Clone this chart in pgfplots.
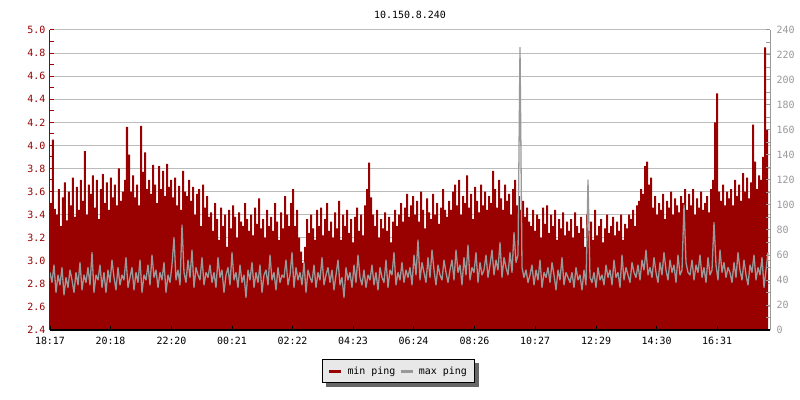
\documentclass[border=0pt]{standalone}
\usepackage{fontspec}
\usepackage{pgfplots}
\pgfplotsset{compat=1.18}
\usepackage{pgfplotstable}
\usetikzlibrary{backgrounds}
\newfontfamily\monofont{DejaVu Sans Mono}
\definecolor{pingred}{HTML}{990000}
\definecolor{pinggray}{HTML}{999999}
\definecolor{gridgray}{HTML}{BBBBBB}
\definecolor{legendbg}{HTML}{E8E8E8}

% min ping, one value every 4 minutes from 18:17
\pgfplotstableread[row sep=\\]{v\\
3.50\\4.05\\3.45\\3.40\\3.62\\3.30\\3.55\\3.68\\3.35\\3.60\\3.48\\3.72\\3.38\\3.64\\3.44\\3.70\\3.52\\3.95\\3.40\\3.66\\
3.58\\3.74\\3.46\\3.70\\3.36\\3.62\\3.75\\3.50\\3.68\\3.44\\3.72\\3.55\\3.66\\3.48\\3.80\\3.52\\3.60\\3.70\\4.16\\3.92\\
3.60\\3.74\\3.55\\3.66\\3.48\\4.17\\3.77\\3.94\\3.62\\3.70\\3.58\\3.83\\3.66\\3.50\\3.82\\3.62\\3.78\\3.56\\3.84\\3.64\\
3.70\\3.55\\3.72\\3.48\\3.65\\3.44\\3.78\\3.60\\3.56\\3.70\\3.52\\3.64\\3.40\\3.58\\3.62\\3.30\\3.66\\3.46\\3.56\\3.38\\
3.42\\3.26\\3.50\\3.36\\3.18\\3.46\\3.30\\3.40\\3.12\\3.44\\3.28\\3.48\\3.38\\3.20\\3.42\\3.34\\3.30\\3.50\\3.36\\3.26\\
3.40\\3.22\\3.46\\3.32\\3.54\\3.28\\3.36\\3.20\\3.44\\3.30\\3.38\\3.26\\3.50\\3.34\\3.18\\3.42\\3.28\\3.56\\3.40\\3.30\\
3.50\\3.62\\3.30\\3.44\\3.20\\3.08\\2.98\\3.12\\3.36\\3.24\\3.40\\3.28\\3.18\\3.44\\3.30\\3.46\\3.22\\3.36\\3.50\\3.26\\
3.34\\3.20\\3.42\\3.28\\3.52\\3.18\\3.40\\3.30\\3.44\\3.24\\3.36\\3.16\\3.38\\3.46\\3.26\\3.40\\3.22\\3.48\\3.62\\3.85\\
3.55\\3.40\\3.30\\3.44\\3.20\\3.36\\3.28\\3.42\\3.26\\3.38\\3.16\\3.34\\3.44\\3.30\\3.40\\3.50\\3.34\\3.46\\3.58\\3.38\\
3.48\\3.56\\3.40\\3.52\\3.34\\3.60\\3.44\\3.28\\3.54\\3.42\\3.36\\3.58\\3.40\\3.50\\3.32\\3.46\\3.62\\3.44\\3.38\\3.52\\
3.44\\3.60\\3.66\\3.48\\3.70\\3.40\\3.56\\3.50\\3.74\\3.46\\3.58\\3.36\\3.64\\3.52\\3.42\\3.66\\3.48\\3.60\\3.44\\3.56\\
3.50\\3.78\\3.62\\3.46\\3.70\\3.54\\3.44\\3.66\\3.52\\3.58\\3.40\\3.62\\3.70\\3.48\\3.56\\3.44\\3.52\\3.38\\3.46\\3.34\\
3.30\\3.44\\3.26\\3.40\\3.36\\3.20\\3.46\\3.32\\3.48\\3.24\\3.40\\3.30\\3.44\\3.18\\3.36\\3.28\\3.42\\3.22\\3.34\\3.26\\
3.36\\3.20\\3.42\\3.30\\3.24\\3.38\\3.28\\3.12\\3.40\\3.26\\3.34\\3.18\\3.44\\3.22\\3.30\\3.36\\3.16\\3.28\\3.40\\3.24\\
3.30\\3.38\\3.22\\3.34\\3.26\\3.40\\3.18\\3.32\\3.28\\3.40\\3.36\\3.44\\3.30\\3.48\\3.52\\3.62\\3.58\\3.82\\3.86\\3.66\\
3.72\\3.46\\3.56\\3.40\\3.50\\3.44\\3.58\\3.36\\3.52\\3.46\\3.60\\3.40\\3.54\\3.48\\3.42\\3.56\\3.50\\3.62\\3.44\\3.58\\
3.48\\3.62\\3.40\\3.54\\3.46\\3.60\\3.44\\3.50\\3.56\\3.42\\3.62\\3.70\\4.20\\4.45\\3.60\\3.52\\3.66\\3.48\\3.60\\3.54\\
3.62\\3.48\\3.70\\3.56\\3.66\\3.52\\3.76\\3.60\\3.72\\3.54\\3.68\\4.18\\3.86\\3.62\\3.74\\3.70\\3.90\\4.85\\4.14\\3.80\\
}\minping

% max ping (right axis), same sampling
\pgfplotstableread[row sep=\\]{v\\
46\\38\\52\\30\\44\\36\\50\\28\\42\\34\\48\\40\\30\\46\\36\\54\\32\\44\\38\\50\\
36\\62\\30\\44\\40\\52\\34\\46\\30\\48\\38\\56\\42\\32\\50\\36\\44\\40\\58\\34\\
42\\50\\32\\46\\38\\56\\30\\44\\40\\52\\36\\60\\42\\48\\34\\46\\40\\54\\30\\44\\
38\\52\\74\\40\\48\\36\\84\\46\\38\\56\\42\\64\\34\\50\\44\\40\\58\\36\\46\\42\\
52\\38\\46\\34\\58\\42\\48\\30\\44\\50\\36\\62\\40\\46\\34\\52\\38\\44\\26\\48\\
40\\54\\34\\46\\38\\52\\30\\44\\48\\36\\60\\40\\46\\32\\50\\38\\44\\42\\56\\36\\
44\\62\\34\\50\\40\\46\\36\\54\\30\\48\\42\\38\\52\\34\\46\\40\\58\\36\\44\\50\\
38\\48\\32\\44\\56\\36\\42\\26\\50\\40\\46\\34\\52\\38\\60\\42\\36\\48\\34\\44\\
40\\52\\36\\46\\32\\50\\42\\38\\56\\34\\48\\44\\62\\36\\46\\40\\54\\38\\48\\42\\
50\\36\\60\\44\\72\\40\\54\\46\\38\\58\\42\\64\\48\\36\\52\\44\\40\\56\\46\\38\\
48\\56\\40\\64\\46\\52\\36\\58\\44\\68\\40\\50\\46\\62\\38\\54\\44\\48\\60\\42\\
52\\64\\44\\56\\48\\70\\42\\58\\50\\44\\62\\46\\78\\54\\60\\226\\50\\42\\48\\38\\
44\\52\\36\\48\\40\\56\\34\\46\\42\\50\\38\\54\\44\\32\\48\\40\\58\\36\\46\\42\\
38\\46\\34\\50\\40\\44\\32\\48\\36\\120\\42\\38\\46\\34\\50\\40\\44\\36\\52\\42\\
48\\36\\56\\42\\46\\34\\60\\40\\50\\44\\38\\54\\46\\42\\52\\40\\56\\48\\64\\44\\
50\\42\\58\\46\\38\\54\\44\\62\\48\\40\\56\\46\\52\\38\\60\\44\\48\\100\\54\\46\\
44\\56\\40\\52\\46\\60\\42\\50\\38\\58\\44\\48\\86\\52\\40\\64\\46\\54\\42\\50\\
46\\38\\54\\42\\62\\48\\40\\56\\44\\36\\52\\46\\60\\40\\50\\44\\58\\34\\48\\62\\
}\maxping

\begin{document}
\begin{tikzpicture}
\useasboundingbox (-50bp,-70bp) rectangle (750bp,330bp);
\pgfplotsset{
  pingbase/.style={
    scale only axis, width=720bp, height=300bp,
    at={(0,0)}, anchor=south west,
    xmin=0, xmax=1440,
    ticklabel style={font=\monofont\fontsize{10}{12}\selectfont},
    /pgf/number format/assume math mode=true,
    tick align=inside,
    major tick length=4bp, minor tick length=4bp,
  }
}
\begin{axis}[pingbase,
  axis x line=none, axis y line*=left,
  ymin=2.4, ymax=5.0,
  ytick={2.4,2.6,2.8,3.0,3.2,3.4,3.6,3.8,4.0,4.2,4.4,4.6,4.8,5.0},
  minor y tick num=1,
  ymajorgrids, major grid style={gridgray, line width=1bp},
  y axis line style={pingred, line width=1bp},
  ytick style={pingred, line width=1bp},
  yticklabel style={pingred, xshift=-1bp, /pgf/number format/.cd, fixed, fixed zerofill, precision=1},
  title={10.150.8.240},
  title style={font=\monofont\fontsize{10}{12}\selectfont, yshift=2bp},
]
\addplot[const plot, fill=pingred, draw=none] table[x expr=\coordindex*4, y=v] {\minping} \closedcycle;
\end{axis}

\begin{axis}[pingbase,
  axis x line*=bottom, axis y line*=right,
  ymin=0, ymax=240, ytick={0,20,...,240}, minor y tick num=1,
  x axis line style={black, line width=2bp},
  y axis line style={pinggray, line width=1bp},
  xtick={0,121,243,364,485,606,727,849,970,1092,1213,1334},
  xticklabels={18:17,20:18,22:20,00:21,02:22,04:23,06:24,08:26,10:27,12:29,14:30,16:31},
  xticklabel style={yshift=-4bp},
  xtick style={black, line width=1bp},
  ytick style={pinggray, line width=1bp},
  yticklabel style={pinggray, xshift=3bp},
  legend columns=2,
  legend image code/.code={\draw[#1] (0bp,0bp) -- (12bp,0bp);},
  legend style={at={(axis description cs:0.484,-0.138)}, anchor=center,
    name=pinglegend,
    draw=black, line width=1bp, fill=legendbg,
    inner xsep=6bp, inner ysep=5bp,
    font=\monofont\fontsize{10}{12}\selectfont,
    /tikz/every odd column/.append style={column sep=3bp},
    /tikz/every even column/.append style={column sep=2bp}},
]
\addlegendimage{pingred, line width=2.5bp}
\addlegendentry{min ping}
\addlegendimage{pinggray, line width=2.5bp}
\addlegendentry{max ping}
\addplot[sharp plot, pinggray, line width=1.3bp, line join=round, forget plot] table[x expr=\coordindex*4, y=v] {\maxping};
\end{axis}
\begin{scope}[on background layer]
\fill[white] (-50bp,-70bp) rectangle (750bp,330bp);
\fill[black!60] ([shift={(4bp,-4bp)}]pinglegend.south west) rectangle ([shift={(4bp,-4bp)}]pinglegend.north east);
\end{scope}
\end{tikzpicture}
\end{document}
